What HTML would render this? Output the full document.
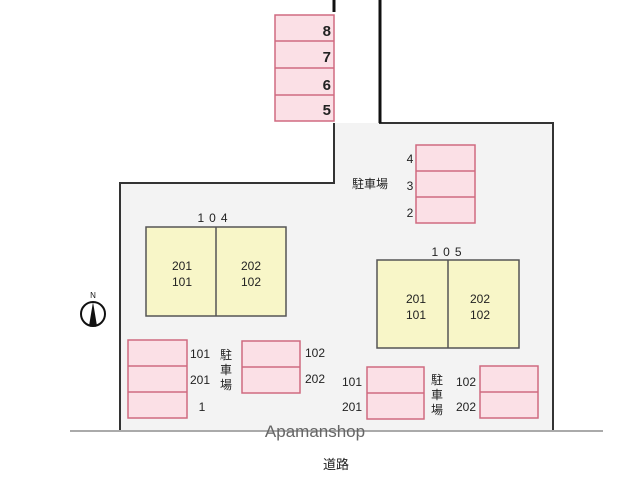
<!DOCTYPE html><html><head><meta charset="utf-8"><style>
body{margin:0;background:#fff;width:628px;height:480px;overflow:hidden}
</style></head><body>
<svg width="628" height="480" xmlns="http://www.w3.org/2000/svg" font-family="Liberation Sans, Noto Sans CJK JP, sans-serif">
<path d="M120,431 L120,183 L334,183 L334,123 L553,123 L553,431 Z" fill="#f3f3f3"/>
<path d="M120,431 L120,183 L334,183 L334,123" fill="none" stroke="#333" stroke-width="2"/>
<path d="M380,0 L380,123 L553,123 L553,431" fill="none" stroke="#333" stroke-width="2"/>
<path d="M380,0 L380,123" stroke="#111" stroke-width="3"/>
<path d="M334,0 L334,12" stroke="#111" stroke-width="3"/>
<line x1="70" y1="431" x2="603" y2="431" stroke="#aaa" stroke-width="2"/>
<g fill="#fbe0e6" stroke="#d06a80" stroke-width="1.5">
<rect x="275" y="15" width="59" height="106"/>
<line x1="275" y1="41" x2="334" y2="41"/><line x1="275" y1="68" x2="334" y2="68"/><line x1="275" y1="95" x2="334" y2="95"/>
<rect x="416" y="145" width="59" height="78"/>
<line x1="416" y1="171" x2="475" y2="171"/><line x1="416" y1="197" x2="475" y2="197"/>
<rect x="128" y="340" width="59" height="78"/>
<line x1="128" y1="366" x2="187" y2="366"/><line x1="128" y1="392" x2="187" y2="392"/>
<rect x="242" y="341" width="58" height="52"/><line x1="242" y1="367" x2="300" y2="367"/>
<rect x="367" y="367" width="57" height="52"/><line x1="367" y1="393" x2="424" y2="393"/>
<rect x="480" y="366" width="58" height="52"/><line x1="480" y1="392" x2="538" y2="392"/>
</g>
<g fill="#f8f6c8" stroke="#555" stroke-width="1.5">
<rect x="146" y="227" width="140" height="89"/><line x1="216" y1="227" x2="216" y2="316"/>
<rect x="377" y="260" width="142" height="88"/><line x1="448" y1="260" x2="448" y2="348"/>
</g>
<g font-size="15" font-weight="bold" fill="#222" text-anchor="end">
<text x="331" y="36">8</text><text x="331" y="62">7</text><text x="331" y="90">6</text><text x="331" y="115">5</text>
</g>
<g font-size="12" fill="#222" text-anchor="middle">
<text x="410" y="163">4</text><text x="410" y="190">3</text><text x="410" y="217">2</text>
<text x="215" y="222" letter-spacing="5">104</text><text x="449" y="256" letter-spacing="5">105</text>
<text x="182" y="270">201</text><text x="182" y="286">101</text><text x="251" y="270">202</text><text x="251" y="286">102</text>
<text x="416" y="303">201</text><text x="416" y="319">101</text><text x="480" y="303">202</text><text x="480" y="319">102</text>
<text x="200" y="358">101</text><text x="200" y="384">201</text><text x="202" y="411">1</text>
<text x="315" y="357">102</text><text x="315" y="383">202</text>
<text x="352" y="386">101</text><text x="352" y="411">201</text>
<text x="466" y="386">102</text><text x="466" y="411">202</text>
<text x="370" y="188">駐車場</text>
</g>
<g font-size="12" fill="#222" text-anchor="middle">
<text x="226" y="359">駐</text><text x="226" y="374">車</text><text x="226" y="389">場</text>
<text x="437" y="384">駐</text><text x="437" y="399">車</text><text x="437" y="414">場</text>
</g>
<circle cx="93" cy="314" r="12" fill="#fff" stroke="#111" stroke-width="2"/>
<path d="M93,302 L97,326 L89,326 Z" fill="#111"/>
<text x="93" y="298" font-size="8" text-anchor="middle" fill="#111">N</text>
<text x="315" y="437" font-size="17" fill="#666" text-anchor="middle">Apamanshop</text>
<text x="336" y="469" font-size="13" fill="#222" text-anchor="middle">道路</text>
</svg>
</body></html>
